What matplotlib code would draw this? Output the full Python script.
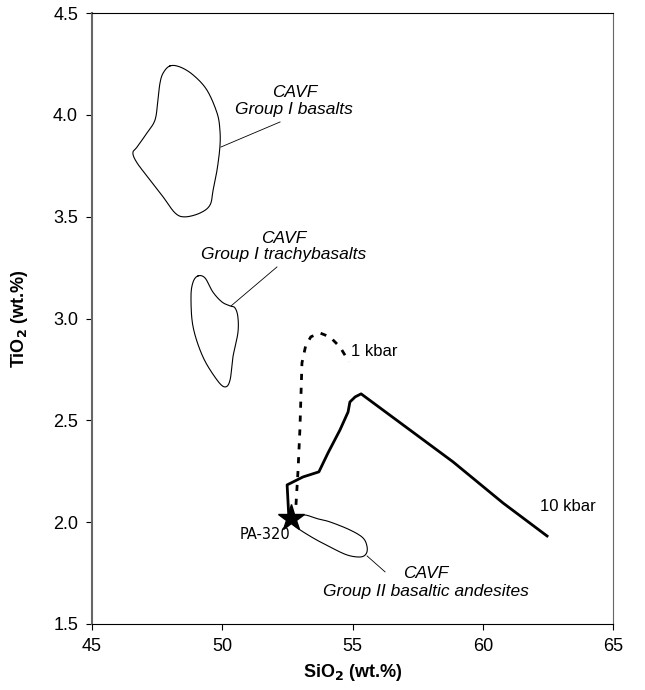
import numpy as np
import matplotlib.pyplot as plt

plt.rcParams['font.family'] = ['Liberation Sans', 'DejaVu Sans']

# field outlines (SiO2, TiO2), traced by eye
basalt_x = [47.99, 47.73, 47.61, 47.53, 47.42, 47.11, 46.73, 46.57, 46.73, 47.23, 47.73, 48.19,
            48.57, 49.15, 49.53, 49.65, 49.80, 49.91, 49.91, 49.80, 49.41, 48.88, 48.38]
basalt_y = [4.240, 4.205, 4.156, 4.073, 3.975, 3.911, 3.842, 3.813, 3.764, 3.680, 3.597, 3.518,
            3.499, 3.518, 3.557, 3.631, 3.729, 3.842, 3.926, 4.009, 4.122, 4.196, 4.235]

trachy_x = [49.07, 48.88, 48.80, 48.88, 49.26, 49.80, 50.11, 50.30, 50.41, 50.60, 50.60, 50.49,
            50.30, 49.99, 49.64, 49.34]
trachy_y = [3.209, 3.179, 3.106, 2.959, 2.811, 2.698, 2.664, 2.698, 2.811, 2.929, 3.008, 3.052,
            3.062, 3.081, 3.130, 3.199]

andes_x = [52.68, 53.10, 53.68, 54.14, 54.90, 55.40, 55.56, 55.52, 55.29, 54.79, 54.14, 53.48,
           52.87, 52.60]
andes_y = [2.011, 2.036, 2.016, 2.001, 1.962, 1.923, 1.879, 1.844, 1.829, 1.839, 1.878, 1.923,
           1.972, 2.001]

# fractionation paths
kbar1_x = [52.83, 52.91, 52.98, 53.02, 53.06, 53.20, 53.40, 53.75, 54.14, 54.52, 54.87]
kbar1_y = [2.085, 2.256, 2.453, 2.615, 2.782, 2.865, 2.910, 2.929, 2.909, 2.860, 2.787]

kbar10_x = [52.55, 52.49, 53.10, 53.71, 54.06, 54.52, 54.83, 54.90, 55.10, 55.33, 58.86, 60.78, 62.47]
kbar10_y = [2.040, 2.183, 2.222, 2.247, 2.340, 2.453, 2.541, 2.590, 2.615, 2.630, 2.296, 2.094, 1.932]

pa320 = (52.62, 2.020)


def closed_smooth(xs, ys, n=12):
    # periodic catmull-rom through the traced points
    p = np.column_stack([xs, ys])
    m = len(p)
    out = []
    t = np.linspace(0, 1, n, endpoint=False)[:, None]
    for i in range(m):
        p0, p1, p2, p3 = p[i - 1], p[i], p[(i + 1) % m], p[(i + 2) % m]
        out.append(0.5 * (2 * p1 + (-p0 + p2) * t + (2 * p0 - 5 * p1 + 4 * p2 - p3) * t ** 2
                          + (-p0 + 3 * p1 - 3 * p2 + p3) * t ** 3))
    out.append(p[:1])
    out = np.vstack(out)
    return out[:, 0], out[:, 1]


fig = plt.figure(figsize=(6.45, 6.9), dpi=100)
ax = fig.add_axes([92 / 645, 1 - 624 / 690, 521 / 645, 611 / 690])

for xs, ys in [(basalt_x, basalt_y), (trachy_x, trachy_y), (andes_x, andes_y)]:
    sx, sy = closed_smooth(xs, ys)
    ax.plot(sx, sy, color='black', lw=0.8)

ax.plot(kbar1_x, kbar1_y, color='black', lw=2, ls=(0, (2.2, 2.8)))
ax.plot(kbar10_x, kbar10_y, color='black', lw=2, solid_joinstyle='round')
ax.plot(*pa320, marker='*', color='black', ms=20, zorder=5)

# leader lines
ax.plot([49.95, 52.22], [3.842, 3.965], color='black', lw=0.6)
ax.plot([50.34, 52.10], [3.062, 3.253], color='black', lw=0.6)
ax.plot([55.56, 56.25], [1.834, 1.756], color='black', lw=0.6)

it = dict(fontsize=12.5, style='italic', ha='center', va='center')
ax.text(52.77, 4.112, 'CAVF', **it)
ax.text(52.77, 4.024, 'Group I basalts', **it)
ax.text(52.37, 3.395, 'CAVF', **it)
ax.text(52.37, 3.312, 'Group I trachybasalts', **it)
ax.text(57.82, 1.746, 'CAVF', **it)
ax.text(57.82, 1.662, 'Group II basaltic andesites', **it)

ax.text(54.95, 2.837, '1 kbar', fontsize=12, va='center')
ax.text(62.2, 2.077, '10 kbar', fontsize=12, va='center')
ax.text(51.66, 1.940, 'PA-320', fontsize=10.5, ha='center', va='center', family='DejaVu Sans')

ax.set_xlim(45, 65)
ax.set_ylim(1.5, 4.5)
ax.set_xticks(np.arange(45, 66, 5))
ax.set_yticks(np.arange(1.5, 4.6, 0.5))
ax.set_yticklabels(['%.1f' % v for v in np.arange(1.5, 4.6, 0.5)])
ax.tick_params(direction='out', length=4, width=0.8, labelsize=13, pad=6)
ax.set_xlabel('SiO$_\\mathbf{2}$ (wt.%)', fontsize=13, fontweight='bold', labelpad=5)
ax.set_ylabel('TiO$_\\mathbf{2}$ (wt.%)', fontsize=13, fontweight='bold', labelpad=17)
ax.spines['left'].set_color('#666666')
ax.spines['left'].set_linewidth(1.5)
ax.spines['right'].set_color('#666666')
ax.spines['right'].set_linewidth(0.8)

fig.savefig('out.png', dpi=100)
